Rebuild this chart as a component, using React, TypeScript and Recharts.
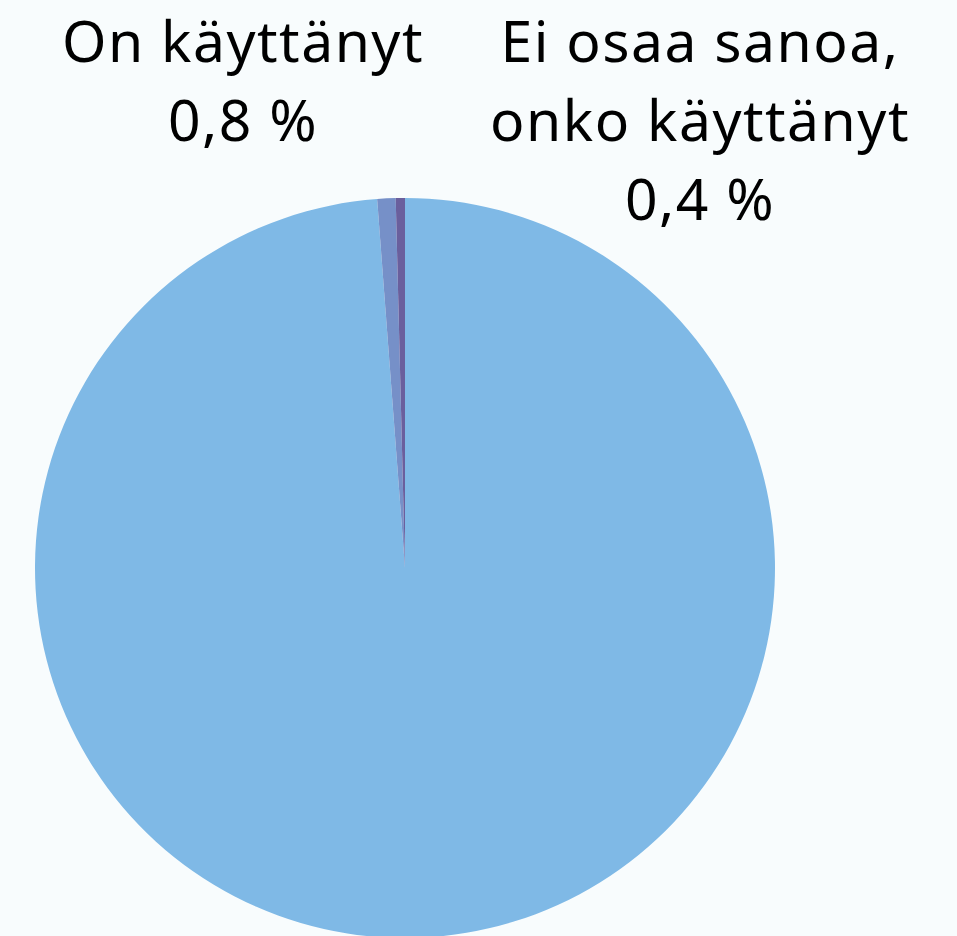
import { PieChart, Pie, Cell } from 'recharts';

const categories = ['Ei ole käyttänyt', 'On käyttänyt', 'Ei osaa sanoa, onko käyttänyt'];
const shares = [98.8, 0.8, 0.4];
const labelLines = [[], ['On käyttänyt'], ['Ei osaa sanoa,', 'onko käyttänyt']];
const colors = ['#7FB9E6', '#7690C8', '#6A5F9D'];

const pieData = categories.map((name, i) => ({ name, value: shares[i] }));

// label blocks sit above the pie, like the original
const labelX = [0, 243, 700];
const LINE_H = 79;
const FIRST_BASELINE = 62;

function renderLabel(props: any) {
  const { index, value } = props;
  const lines = labelLines[index];
  if (!lines.length) return null;
  const all = [...lines, `${value.toFixed(1).replace('.', ',')} %`];
  return (
    <text
      key={`lbl-${index}`}
      x={labelX[index]}
      y={FIRST_BASELINE}
      textAnchor="middle"
      fill="#000"
      style={{ fontFamily: '"Noto Sans", sans-serif', fontSize: 57, letterSpacing: 1.5 }}
    >
      {all.map((t, i) => (
        <tspan key={i} x={labelX[index]} y={FIRST_BASELINE + i * LINE_H}>
          {t}
        </tspan>
      ))}
    </text>
  );
}

export default function App() {
  return (
    <div style={{ width: 957, height: 936, background: '#F8FCFD', overflow: 'hidden' }}>
      <style>{`body{margin:0;background:#F8FCFD}`}</style>
      <PieChart width={957} height={936} margin={{ top: 0, right: 0, bottom: 0, left: 0 }}>
        <Pie
          data={pieData}
          dataKey="value"
          nameKey="name"
          cx={405}
          cy={568}
          outerRadius={370}
          startAngle={90}
          endAngle={-270}
          stroke="none"
          label={renderLabel}
          labelLine={false}
          isAnimationActive={false}
        >
          {pieData.map((d, i) => (
            <Cell key={d.name} fill={colors[i]} />
          ))}
        </Pie>
      </PieChart>
    </div>
  );
}
